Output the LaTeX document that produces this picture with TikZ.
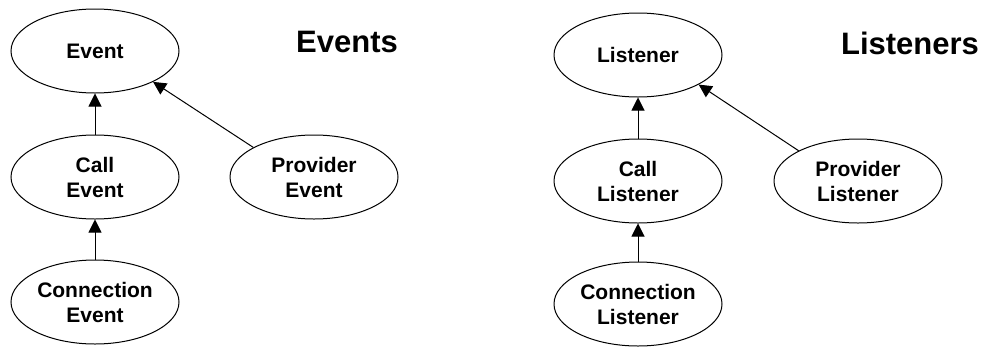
\documentclass[tikz,border=0pt]{standalone}
\usepackage{fontspec}
\setmainfont{Liberation Sans}
\usetikzlibrary{shapes.geometric,arrows.meta}
\begin{document}
\begin{tikzpicture}[x=1pt,y=-1pt,
  cls/.style={ellipse,draw,line width=1pt,minimum width=168pt,minimum height=84pt,
    inner sep=0pt,align=center,font=\fontsize{21}{25}\selectfont\bfseries},
  heading/.style={font=\fontsize{31}{36}\selectfont\bfseries,inner sep=0pt},
  inherit/.style={draw,line width=1pt,-{Triangle[length=13pt,width=13pt]}}]
\useasboundingbox (0,0) rectangle (984,346);

% Event hierarchy
\node[cls] (ev)    at (95,51)  {Event};
\node[cls] (cev)   at (95,177) {Call\\Event};
\node[cls] (conev) at (95,302) {Connection\\Event};
\node[cls] (pev)   at (314,177) {Provider\\Event};
\node[heading] (evtitle) at (347,42) {Events};

\draw[inherit] (cev.north) -- (ev.south);
\draw[inherit] (conev.north) -- (cev.south);
\draw[inherit] (pev.154) -- (ev.-28);

% Listener hierarchy
\node[cls] (li)    at (638,55)  {Listener};
\node[cls] (cli)   at (638,181) {Call\\Listener};
\node[cls] (conli) at (638,304) {Connection\\Listener};
\node[cls] (pli)   at (858,181) {Provider\\Listener};
\node[heading] (lititle) at (910,43) {Listeners};

\draw[inherit] (cli.north) -- (li.south);
\draw[inherit] (conli.north) -- (cli.south);
\draw[inherit] (pli.153) -- (li.-26);
\end{tikzpicture}
\end{document}
